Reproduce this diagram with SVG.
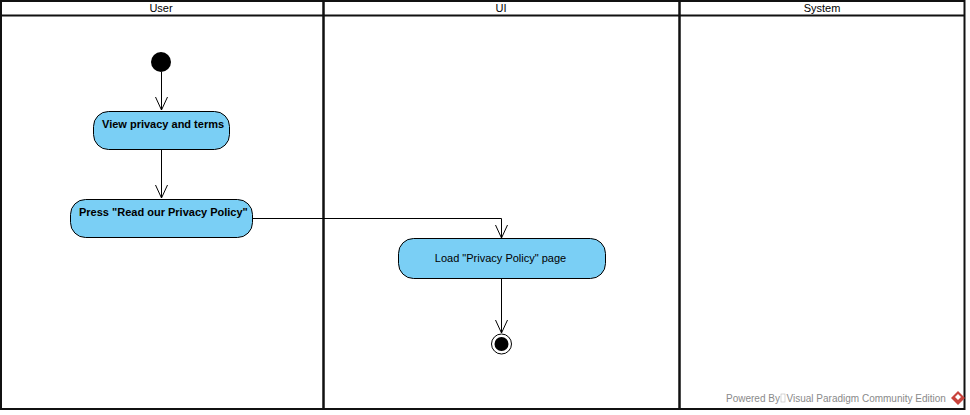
<svg xmlns="http://www.w3.org/2000/svg" width="970" height="415" viewBox="0 0 970 415">
<style>
text{font-family:"Liberation Sans",Arial,sans-serif;font-size:11px;fill:#000}
.t{text-anchor:middle}
.lane{fill:none;stroke:#111;stroke-width:2}
.act{fill:#7acff5;stroke:#000;stroke-width:1}
.b{font-weight:bold}
.c{fill:none;stroke:#000;stroke-width:1}
.w{font-size:10px;fill:#8a8a8a}
</style>
<defs><marker id="a" markerUnits="userSpaceOnUse" markerWidth="16" markerHeight="16" refX="13" refY="7" orient="auto"><path d="M0 1L13 7L0 13" fill="none" stroke="#000"/></marker></defs>
<rect width="970" height="415" fill="#fff"/>
<g id="lane-user"><rect class="lane" x="1" y="1" width="322.500" height="408"/><line class="lane" x1="1" y1="15.500" x2="323.500" y2="15.500"/><text class="t" x="161" y="12">User</text></g>
<g id="lane-ui"><rect class="lane" x="323.500" y="1" width="356" height="408"/><line class="lane" x1="323.500" y1="15.500" x2="679.500" y2="15.500"/><text class="t" x="501" y="12">UI</text></g>
<g id="lane-system"><rect class="lane" x="679.500" y="1" width="285" height="408"/><line class="lane" x1="679.500" y1="15.500" x2="964.500" y2="15.500"/><text class="t" x="822" y="12">System</text></g>
<g id="connectors">
<path class="c" marker-end="url(#a)" d="M161.500 72V110"/>
<path class="c" marker-end="url(#a)" d="M161.500 150V198"/>
<path class="c" marker-end="url(#a)" d="M253 218.500H501.500V238"/>
<path class="c" marker-end="url(#a)" d="M501.500 278V333"/>
</g>
<g id="start"><circle cx="161" cy="62" r="10" fill="#000"/></g>
<g id="view"><rect class="act" x="93.500" y="111.500" width="136" height="38" rx="15"/><text class="b" x="102" y="128">View privacy and terms</text></g>
<g id="press"><rect class="act" x="70.500" y="199.500" width="182" height="38" rx="15"/><text class="b" x="79" y="216">Press "Read our Privacy Policy"</text></g>
<g id="load"><rect class="act" x="398.500" y="238.500" width="207" height="40" rx="15"/><text class="t" x="500.500" y="262">Load "Privacy Policy" page</text></g>
<g id="end"><circle cx="501.500" cy="344" r="10" fill="#fff" stroke="#000"/><circle cx="501.500" cy="344" r="7" fill="#000"/></g>
<g id="watermark"><text class="w" x="726" y="402">Powered By</text><rect x="781" y="394" width="4" height="8" fill="none" stroke="#bbb" stroke-width=".6"/><text class="w" x="786.500" y="402">Visual Paradigm Community Edition</text><path d="M958 391L965 398L958 405L951 398Z" fill="#c8433c"/><path d="M955 397L958 394L961 397L958 400Z" fill="#fff"/></g>
</svg>
